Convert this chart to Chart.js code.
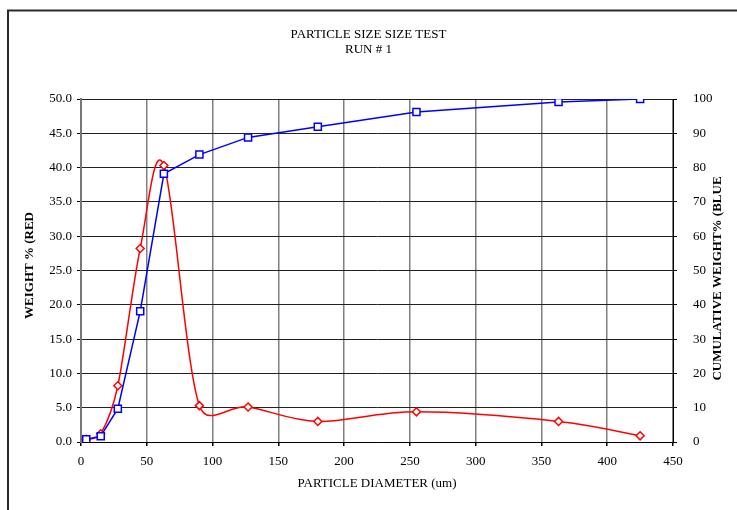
<!DOCTYPE html>
<html><head><meta charset="utf-8">
<script src="https://cdn.jsdelivr.net/npm/chart.js@4/dist/chart.umd.min.js"></script>
<style>html,body{margin:0;padding:0;background:#fff;}#wrap{position:relative;width:737px;height:510px;}</style>
</head><body><div id="wrap"><canvas id="c" width="737" height="510"></canvas></div>
<script>
// Data
const diameters = [4, 15, 28, 45, 63, 90, 127, 180, 255, 363, 425];
const weightPct = [0.4, 1.2, 8.2, 28.2, 40.3, 5.3, 5.1, 3.0, 4.4, 3.0, 0.9];
const cumulativePct = [0.8, 1.7, 9.7, 38.1, 78.2, 83.8, 88.8, 91.9, 96.2, 99.1, 100];
const titleLines = ['PARTICLE SIZE SIZE TEST', 'RUN # 1'];
const xTitle = 'PARTICLE DIAMETER (um)';
const leftTitle = 'WEIGHT % (RED';
const rightTitle = 'CUMULATIVE WEIGHT% (BLUE';

const SERIF = "'Liberation Serif', 'Times New Roman', serif";

const framePlugin = {
  id: 'frame',
  beforeDraw(chart) {
    const ctx = chart.ctx;
    ctx.save();
    ctx.strokeStyle = '#2a2a2a';
    ctx.lineWidth = 2;
    ctx.beginPath();
    ctx.moveTo(8, 510);
    ctx.lineTo(8, 10.5);
    ctx.lineTo(737, 10.5);
    ctx.stroke();
    ctx.restore();
  }
};

// Excel-style smoothing: uniform Catmull-Rom tangents (1/6), arms limited to half the segment
const excelSmoothPlugin = {
  id: 'excelSmooth',
  afterDatasetsUpdate(chart) {
    chart.data.datasets.forEach((ds, di) => {
      if (!ds.excelSmooth) return;
      const meta = chart.getDatasetMeta(di);
      const pts = meta.data;
      const n = pts.length;
      const dist = (a, b) => Math.hypot(b.x - a.x, b.y - a.y);
      for (let i = 0; i < n; i++) {
        const p = pts[i];
        const prev = pts[Math.max(i - 1, 0)];
        const next = pts[Math.min(i + 1, n - 1)];
        const tx = (next.x - prev.x) / 6;
        const ty = (next.y - prev.y) / 6;
        const tl = Math.hypot(tx, ty) || 1;
        const lenPrev = i > 0 ? dist(prev, p) / 2 : 0;
        const lenNext = i < n - 1 ? dist(p, next) / 2 : 0;
        const sPrev = Math.min(1, lenPrev / tl);
        const sNext = Math.min(1, lenNext / tl);
        p.cp1x = p.x - tx * sPrev;
        p.cp1y = p.y - ty * sPrev;
        p.cp2x = p.x + tx * sNext;
        p.cp2y = p.y + ty * sNext;
      }
      if (meta.dataset) {
        meta.dataset._pointsUpdated = true;
        meta.dataset._path = undefined;
      }
    });
  }
};

const axisTitlesPlugin = {
  id: 'axisTitles',
  afterDraw(chart) {
    const ctx = chart.ctx;
    const a = chart.chartArea;
    const mid = (a.top + a.bottom) / 2;
    ctx.save();
    ctx.font = "bold 13px " + SERIF;
    ctx.fillStyle = '#000';
    ctx.textAlign = 'center';
    ctx.textBaseline = 'middle';
    ctx.save();
    ctx.translate(30, mid - 5);
    ctx.rotate(-Math.PI / 2);
    ctx.fillText(leftTitle, 0, 0);
    ctx.restore();
    ctx.save();
    ctx.translate(717.5, mid + 8);
    ctx.rotate(-Math.PI / 2);
    ctx.fillText(rightTitle, 0, 0);
    ctx.restore();
    ctx.restore();
  }
};

const tickFont = {family: SERIF, size: 13, weight: 'normal'};

new Chart(document.getElementById('c'), {
  type: 'line',
  data: {
    datasets: [
      {
        label: 'Cumulative weight %',
        data: diameters.map((d, i) => ({x: d, y: cumulativePct[i]})),
        yAxisID: 'y1',
        borderColor: '#0000ff',
        borderWidth: 1.5,
        tension: 0,
        pointStyle: 'rect',
        pointRadius: 5,
        pointBackgroundColor: '#ffffff',
        pointBorderColor: '#0000ff',
        pointBorderWidth: 1.5,
        fill: false
      },
      {
        label: 'Weight %',
        data: diameters.map((d, i) => ({x: d, y: weightPct[i]})),
        yAxisID: 'y',
        borderColor: '#ff0000',
        borderWidth: 1.5,
        tension: 0.35,
        excelSmooth: true,
        pointStyle: 'rectRot',
        pointRadius: 4,
        pointBackgroundColor: '#ffffff',
        pointBorderColor: '#ff0000',
        pointBorderWidth: 1.5,
        fill: false
      }
    ]
  },
  options: {
    responsive: false,
    animation: false,
    layout: {padding: 0},
    plugins: {
      legend: {display: false},
      tooltip: {enabled: false},
      title: {
        display: true,
        text: titleLines,
        color: '#000',
        font: {family: SERIF, size: 13, weight: 'normal', lineHeight: '15px'},
        padding: {top: 27, bottom: 42}
      }
    },
    scales: {
      x: {
        type: 'linear',
        min: 0, max: 450,
        ticks: {stepSize: 50, color: '#000', font: tickFont, padding: 8, maxRotation: 0},
        grid: {color: '#808080', tickColor: '#000', tickLength: 4, lineWidth: 1.5},
        border: {color: '#000', width: 1},
        title: {display: true, text: xTitle, color: '#000', font: {family: SERIF, size: 13, weight: 'normal'}, padding: {top: 0, bottom: 19}},
        afterFit(s) { s.height = 68; }
      },
      y: {
        position: 'left',
        min: 0, max: 50,
        ticks: {stepSize: 5, color: '#000', font: tickFont, padding: 5, callback: v => Number(v).toFixed(1)},
        grid: {color: '#222', tickColor: '#000', tickLength: 4, lineWidth: 1},
        border: {color: '#777', width: 2},
        afterFit(s) { s.width = 81; }
      },
      y1: {
        position: 'right',
        min: 0, max: 100,
        ticks: {stepSize: 10, color: '#000', font: tickFont, padding: 16},
        grid: {drawOnChartArea: false, color: '#000', tickLength: 4},
        border: {color: '#000', width: 1},
        afterFit(s) { s.width = 64; }
      }
    }
  },
  plugins: [framePlugin, excelSmoothPlugin, axisTitlesPlugin]
});
</script>
</body></html>
